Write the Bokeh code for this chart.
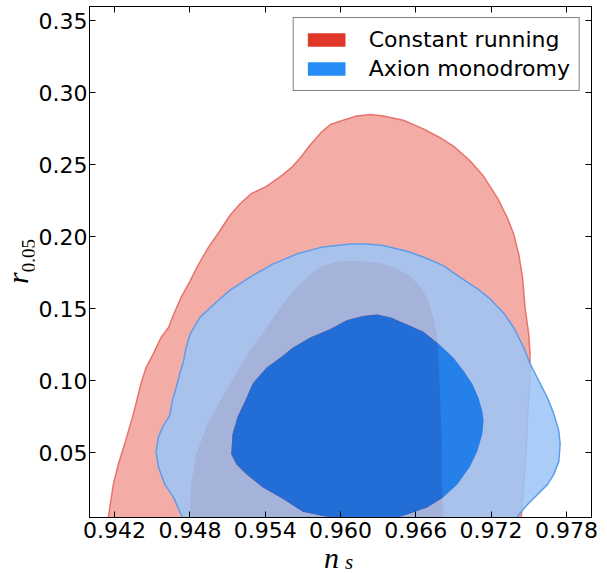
import numpy as np
from bokeh.plotting import figure
from bokeh.models import (Range1d, LinearAxis, FixedTicker, Legend, LegendItem,
                          NumeralTickFormatter, Div)
from bokeh.layouts import row, column
from bokeh.embed import file_html
from bokeh.resources import INLINE

# ---------------- data ----------------
series_names = ["Constant running", "Axion monodromy"]
x_label_main, x_label_sub = "n", "s"
y_label_main, y_label_sub = "r", "0.05"

# Constant running, outer (2 sigma) contour
cr_2s_x = [0.9414, 0.9415, 0.9419, 0.9423, 0.9428, 0.9435, 0.9441, 0.9445, 0.9451, 0.9457,
           0.9463, 0.9467, 0.9473, 0.9480, 0.9487, 0.9495, 0.9503, 0.9512, 0.9520, 0.9529,
           0.9541, 0.9554, 0.9562, 0.9569, 0.9576, 0.9584, 0.9592, 0.9602, 0.9613, 0.9624,
           0.9634, 0.9650, 0.9666, 0.9679, 0.9690, 0.9703, 0.9714, 0.9725, 0.9733, 0.9738,
           0.9742, 0.9745, 0.9747, 0.9750, 0.9751, 0.9751, 0.9749, 0.9748, 0.9746, 0.9744,
           0.9744]
cr_2s_y = [0.000, 0.005, 0.028, 0.042, 0.056, 0.077, 0.098, 0.109, 0.119, 0.130,
           0.137, 0.146, 0.158, 0.169, 0.181, 0.193, 0.203, 0.215, 0.223, 0.230,
           0.235, 0.243, 0.249, 0.256, 0.264, 0.272, 0.278, 0.281, 0.284, 0.285,
           0.284, 0.281, 0.275, 0.269, 0.263, 0.253, 0.242, 0.227, 0.213, 0.202,
           0.188, 0.172, 0.151, 0.132, 0.119, 0.102, 0.075, 0.051, 0.028, 0.005,
           0.000]

# Constant running, inner (1 sigma) contour
cr_1s_x = [0.9480, 0.9480, 0.9481, 0.9485, 0.9493, 0.9504, 0.9515, 0.9528, 0.9541, 0.9554,
           0.9565, 0.9576, 0.9586, 0.9600, 0.9616, 0.9632, 0.9645, 0.9656, 0.9664, 0.9670,
           0.9674, 0.9677, 0.9678, 0.9679, 0.9680, 0.9681, 0.9681, 0.9682, 0.9682]
cr_1s_y = [0.000, 0.005, 0.028, 0.049, 0.068, 0.086, 0.102, 0.121, 0.137, 0.153,
           0.165, 0.174, 0.180, 0.183, 0.183, 0.182, 0.178, 0.172, 0.165, 0.156,
           0.144, 0.132, 0.119, 0.098, 0.075, 0.051, 0.028, 0.005, 0.000]

# Axion monodromy, outer (2 sigma) contour
am_2s_x = [0.9475, 0.9474, 0.9467, 0.9460, 0.9455, 0.9453, 0.9455, 0.9459, 0.9464, 0.9466,
           0.9469, 0.9472, 0.9475, 0.9477, 0.9480, 0.9488, 0.9499, 0.9512, 0.9528, 0.9546,
           0.9565, 0.9586, 0.9608, 0.9621, 0.9634, 0.9653, 0.9666, 0.9682, 0.9695, 0.9709,
           0.9719, 0.9730, 0.9738, 0.9746, 0.9751, 0.9758, 0.9765, 0.9770, 0.9774, 0.9775,
           0.9774, 0.9770, 0.9765, 0.9757, 0.9749, 0.9742, 0.9740]
am_2s_y = [0.000, 0.005, 0.019, 0.028, 0.040, 0.051, 0.061, 0.069, 0.076, 0.086,
           0.095, 0.105, 0.114, 0.123, 0.132, 0.144, 0.153, 0.163, 0.172, 0.181,
           0.188, 0.193, 0.195, 0.195, 0.194, 0.190, 0.186, 0.180, 0.172, 0.164,
           0.157, 0.147, 0.137, 0.123, 0.112, 0.100, 0.088, 0.077, 0.065, 0.056,
           0.044, 0.035, 0.028, 0.021, 0.014, 0.007, 0.000]

# Axion monodromy, inner (1 sigma) contour
am_1s_x = [0.9513, 0.9514, 0.9518, 0.9524, 0.9530, 0.9541, 0.9552, 0.9562, 0.9576, 0.9592,
           0.9605, 0.9618, 0.9629, 0.9640, 0.9653, 0.9666, 0.9679, 0.9690, 0.9698, 0.9705,
           0.9710, 0.9713, 0.9714, 0.9713, 0.9709, 0.9703, 0.9693, 0.9682, 0.9669, 0.9653,
           0.9642, 0.9600, 0.9586, 0.9570, 0.9554, 0.9538, 0.9525, 0.9517]
am_1s_y = [0.049, 0.063, 0.075, 0.086, 0.098, 0.109, 0.116, 0.123, 0.130, 0.136,
           0.142, 0.145, 0.146, 0.144, 0.139, 0.134, 0.125, 0.116, 0.107, 0.098,
           0.088, 0.079, 0.072, 0.063, 0.051, 0.040, 0.028, 0.019, 0.012, 0.007,
           0.004, 0.004, 0.006, 0.009, 0.018, 0.026, 0.035, 0.042]

x_ticks = [0.942, 0.948, 0.954, 0.960, 0.966, 0.972, 0.978]
x_tick_labels = ["0.942", "0.948", "0.954", "0.960", "0.966", "0.972", "0.978"]
y_ticks = [0.05, 0.10, 0.15, 0.20, 0.25, 0.30, 0.35]
y_tick_labels = ["0.05", "0.10", "0.15", "0.20", "0.25", "0.30", "0.35"]

# ---------------- styling ----------------
red_2s_fill = "#F3ADA6"
red_1s_fill = "#E03828"
red_line = "#E8736A"
blue_2s_fill = "#9CC6F6"
blue_1s_fill = "#0078F4"
blue_line = "#5E9DEB"
TICK_FONT = "DejaVu Sans"
MATH_FONT = "'Liberation Serif', 'DejaVu Serif', serif"

YLAB_W = 34        # width of the column holding the y-axis label
PLOT_H = 548       # height of the figure
XLAB_H = 573 - PLOT_H

p = figure(width=607 - YLAB_W, height=PLOT_H, output_backend="svg", toolbar_location=None,
           x_range=Range1d(0.940, 0.980), y_range=Range1d(0.005, 0.36),
           min_border_left=89 - YLAB_W, min_border_right=16, min_border_top=6,
           min_border_bottom=PLOT_H - 517,
           x_axis_location=None, y_axis_location=None)
p.xgrid.visible = False
p.ygrid.visible = False
p.outline_line_color = "black"
p.outline_line_width = 1
p.background_fill_color = "white"
p.border_fill_color = "white"

# contours: constant running (opaque), then axion monodromy (translucent)
p.patch(cr_2s_x, cr_2s_y, fill_color=red_2s_fill, line_color=None)
r_red = p.patch(cr_1s_x, cr_1s_y, fill_color=red_1s_fill, line_color=None)
p.line(cr_2s_x, cr_2s_y, line_color=red_line, line_width=1.5)

p.multi_polygons(xs=[[[am_2s_x, am_1s_x]]], ys=[[[am_2s_y, am_1s_y]]],
                 fill_color=blue_2s_fill, fill_alpha=0.87, line_color=None)
r_blue = p.patch(am_1s_x, am_1s_y, fill_color=blue_1s_fill, fill_alpha=0.85, line_color=None)
p.line(am_2s_x, am_2s_y, line_color=blue_line, line_width=1.5)

# axes on all four sides, ticks inward
def make_axis(ticks, labels, fmt, show_labels, standoff):
    ax = LinearAxis(ticker=FixedTicker(ticks=ticks), formatter=NumeralTickFormatter(format=fmt))
    ax.major_label_overrides = {t: l for t, l in zip(ticks, labels)}
    ax.major_tick_in = 6
    ax.major_tick_out = 0
    ax.minor_tick_line_color = None
    ax.axis_line_color = "black"
    ax.axis_line_width = 1
    ax.major_tick_line_color = "black"
    ax.major_label_text_font = TICK_FONT
    if show_labels:
        ax.major_label_text_color = "black"
        ax.major_label_text_font_size = "22px"
        ax.major_label_standoff = standoff
    else:
        ax.major_label_text_color = None
        ax.major_label_text_font_size = "1px"
        ax.major_label_standoff = 0
    return ax

p.add_layout(make_axis(x_ticks, x_tick_labels, "0.000", True, 4), "below")
p.add_layout(make_axis(y_ticks, y_tick_labels, "0.00", True, 2), "left")
p.add_layout(make_axis(x_ticks, x_tick_labels, "0.000", False, 0), "above")
p.add_layout(make_axis(y_ticks, y_tick_labels, "0.00", False, 0), "right")

# legend
legend = Legend(items=[LegendItem(label=series_names[0], renderers=[r_red]),
                       LegendItem(label=series_names[1], renderers=[r_blue])],
                location="top_right", margin=11, padding=9, spacing=4,
                glyph_width=47, glyph_height=17, label_standoff=19,
                label_text_font=TICK_FONT, label_text_font_size="22px",
                label_text_color="black",
                border_line_color="black", border_line_width=1,
                background_fill_color="white", background_fill_alpha=1)
p.add_layout(legend)

# axis labels (math italic with subscripts) as HTML text
ylab_html = (
    f'<div style="position:relative;width:{YLAB_W}px;height:{PLOT_H}px;">'
    f'<div style="position:absolute;left:5.5px;top:284px;transform:rotate(-90deg);'
    f'transform-origin:0 0;white-space:nowrap;font-family:{MATH_FONT};font-size:30px;'
    f'line-height:0.8;color:black;">'
    f'<i>{y_label_main}</i><span style="font-size:19px;position:relative;top:7px;">'
    f'{y_label_sub}</span></div></div>'
)
xlab_html = (
    f'<div style="position:relative;width:607px;height:{XLAB_H}px;">'
    f'<div style="position:absolute;left:324px;top:-5px;white-space:nowrap;'
    f'font-family:{MATH_FONT};font-size:30px;line-height:1;color:black;">'
    f'<i>{x_label_main}</i><i style="font-size:21px;position:relative;top:1px;'
    f'padding-left:6px;">{x_label_sub}</i></div></div>'
)
ydiv = Div(text=ylab_html, width=YLAB_W, height=PLOT_H, margin=0)
xdiv = Div(text=xlab_html, width=607, height=XLAB_H, margin=0)

layout = column(row(ydiv, p, spacing=0), xdiv, spacing=0)

open("out.html", "w").write(file_html(layout, INLINE))
